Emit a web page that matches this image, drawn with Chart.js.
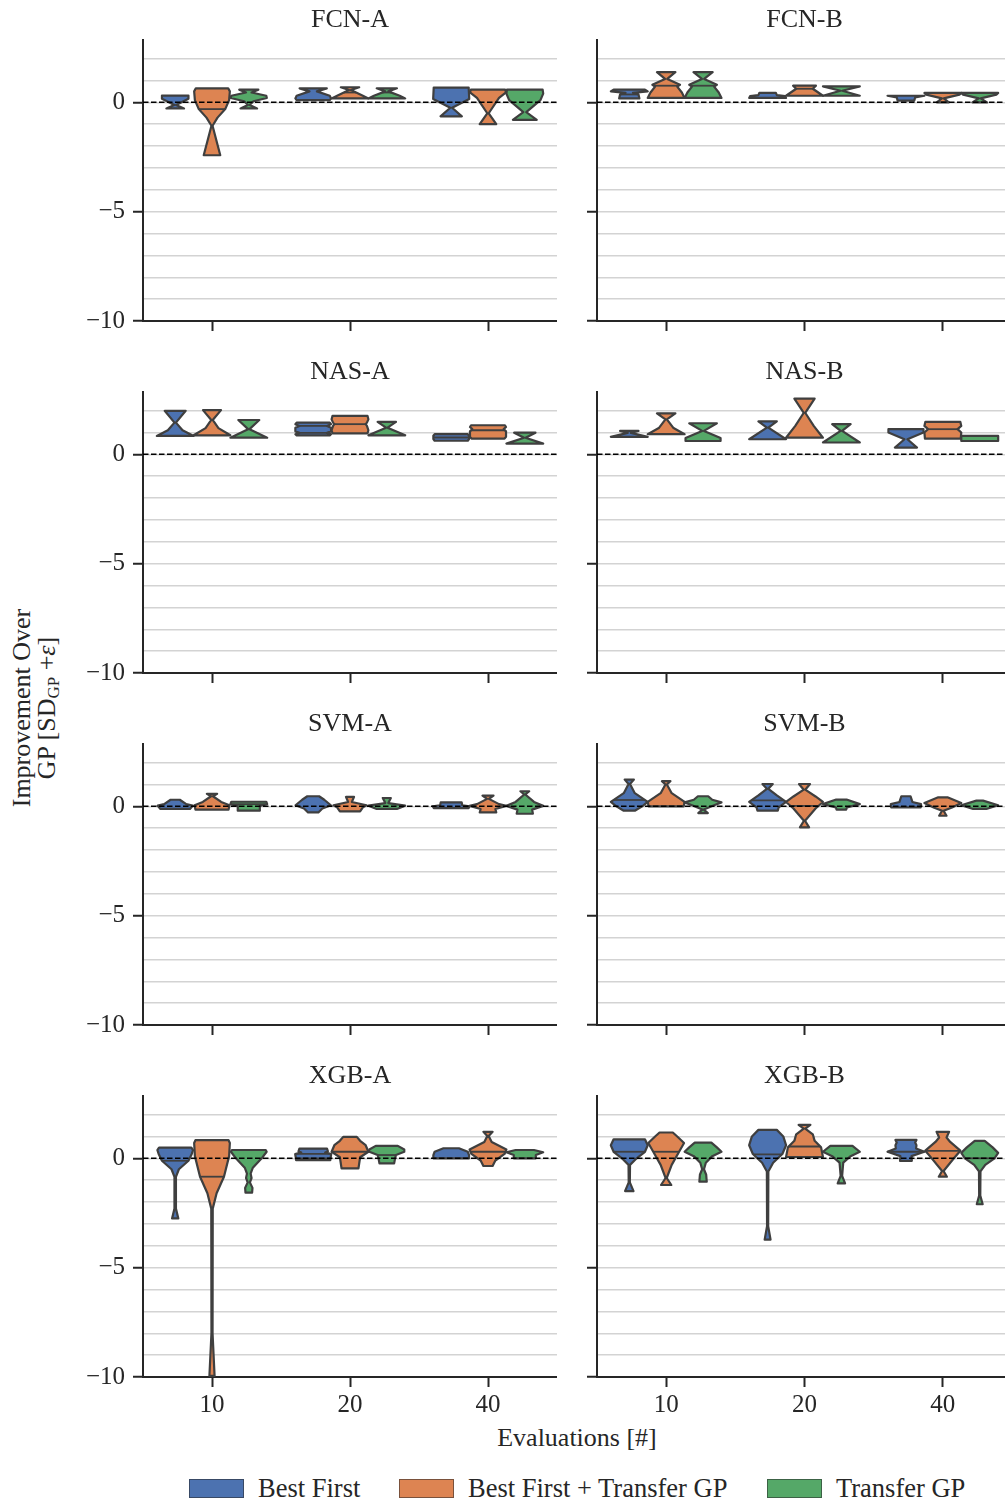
<!DOCTYPE html>
<html>
<head>
<meta charset="utf-8">
<script src="https://cdn.jsdelivr.net/npm/chart.js@4.4.1/dist/chart.umd.min.js"></script>
<style>
  html, body { margin:0; padding:0; background:#fff; }
  body { width:1005px; height:1502px; overflow:hidden; position:relative;
         font-family:'Liberation Serif','Times New Roman',serif; color:#262626; }
  canvas { position:absolute; }
  .ylab { position:absolute; width:340px; left:-136px; top:683px; text-align:center;
          font-size:26px; line-height:25px; transform:rotate(-90deg); transform-origin:50% 50%; white-space:nowrap; }
  .ylab sub { font-size:17px; vertical-align:-4px; line-height:0; }
  .xlab { position:absolute; left:377px; width:400px; top:1423px; text-align:center; font-size:26px; }
  .leg { position:absolute; top:1473px; display:flex; align-items:center; font-size:26.5px; white-space:nowrap; }
  .leg span.box { display:inline-block; width:53px; height:17px; margin-right:14px; border:1px solid rgba(40,40,40,0.55); }
</style>
</head>
<body>
<div class="ylab">Improvement Over<br>GP [SD<sub>GP</sub> +<i>ε</i>]</div>
<div class="xlab">Evaluations [#]</div>
<div class="leg" style="left:189px"><span class="box" style="background:#4C72B0"></span>Best First</div>
<div class="leg" style="left:399px"><span class="box" style="background:#DD8452"></span>Best First + Transfer GP</div>
<div class="leg" style="left:767px"><span class="box" style="background:#55A868"></span>Transfer GP</div>
<script>
// ---------------- data ----------------
const panelTitles = ['FCN-A','FCN-B','NAS-A','NAS-B','SVM-A','SVM-B','XGB-A','XGB-B'];
const evaluations = ['10','20','40'];
const methods = ['Best First','Best First + Transfer GP','Transfer GP'];
const yTickValues = [-10,-9,-8,-7,-6,-5,-4,-3,-2,-1,0,1,2];
const yMin = -10, yMax = 2.85;
const methodColors = ['#4C72B0','#DD8452','#55A868'];

// violin profiles: [value, relative half-width] from top to bottom, one per evaluation budget
const fcnA_bestFirst = [
  [[0.31,0.72],[0.16,0.72],[-0.12,0.05],[-0.28,0.48]],
  [[0.64,0.74],[0.5,0.2],[0.3,0.9],[0.18,0.97],[0.1,0.9]],
  [[0.67,0.95],[0.15,0.98],[-0.25,0.05],[-0.64,0.58]]];
const fcnA_bestFirstTransfer = [
  [[0.64,0.88],[0.5,0.97],[0.1,0.93],[-0.31,0.72],[-0.7,0.3],[-1.07,0.03],[-2.42,0.45]],
  [[0.69,0.5],[0.56,0.05],[0.3,0.7],[0.18,1.0]],
  [[0.58,0.93],[0.45,0.98],[0.2,0.6],[-0.5,0.04],[-1.0,0.45]]];
const fcnA_transfer = [
  [[0.58,0.52],[0.45,0.15],[0.3,0.95],[0.2,0.98],[0.05,0.25],[-0.12,0.05],[-0.28,0.45]],
  [[0.64,0.55],[0.5,0.08],[0.3,0.7],[0.18,1.0]],
  [[0.58,0.97],[0.4,1.0],[0.1,0.85],[-0.45,0.08],[-0.8,0.65]]];
const fcnA_lines = [[[],[],[]],[[-0.31],[0.45],[]],[[],[0.45],[]]];

const fcnB_bestFirst = [
  [[0.58,0.85],[0.5,1.0],[0.43,0.2],[0.36,0.5],[0.18,0.55]],
  [[0.43,0.45],[0.33,0.5],[0.28,0.95],[0.2,1.0]],
  [[0.3,1.0],[0.22,0.5],[0.08,0.45]]];
const fcnB_bestFirstTransfer = [
  [[1.38,0.5],[1.07,0.06],[0.8,0.75],[0.72,0.6],[0.45,0.85],[0.2,1.0]],
  [[0.76,0.62],[0.62,0.45],[0.3,1.0]],
  [[0.43,1.0],[0.35,0.9],[0.18,0.05],[0.0,0.33]]];
const fcnB_transfer = [
  [[1.38,0.52],[1.07,0.06],[0.8,0.75],[0.72,0.6],[0.45,0.85],[0.2,1.0]],
  [[0.73,1.0],[0.53,0.05],[0.3,1.0]],
  [[0.43,1.0],[0.35,0.9],[0.18,0.05],[0.0,0.4]]];
const fcnB_lines = [[[0.36],[],[]],[[0.76],[0.62],[]],[[0.76],[],[]]];

const nasA_bestFirst = [
  [[1.99,0.57],[1.45,0.04],[1.1,0.4],[0.84,1.0]],
  [[1.45,0.9],[1.38,0.97],[1.3,0.75],[1.22,0.97],[1.05,0.97],[0.98,0.75],[0.92,0.97],[0.87,0.9]],
  [[0.92,0.9],[0.85,0.97],[0.7,0.97],[0.62,0.9]]];
const nasA_bestFirstTransfer = [
  [[2.02,0.49],[1.57,0.04],[1.2,0.35],[0.87,1.0]],
  [[1.76,0.95],[1.6,1.0],[1.45,0.92],[1.38,0.85],[1.3,0.92],[1.1,1.0],[0.96,0.95]],
  [[1.33,0.92],[1.25,0.98],[1.15,0.85],[1.05,0.98],[0.8,0.98],[0.72,0.9]]];
const nasA_transfer = [
  [[1.57,0.57],[1.15,0.04],[0.76,1.0]],
  [[1.48,0.5],[1.22,0.04],[0.87,1.0]],
  [[0.99,0.58],[0.76,0.04],[0.49,1.0]]];
const nasA_lines = [[[],[1.3,0.98],[0.77]],[[],[1.38],[1.1]],[[],[],[]]];

const nasB_bestFirst = [
  [[1.07,0.5],[0.98,0.08],[0.8,1.0]],
  [[1.51,0.5],[1.22,0.04],[0.69,1.0]],
  [[1.15,0.95],[1.0,0.95],[0.69,0.08],[0.31,0.6]]];
const nasB_bestFirstTransfer = [
  [[1.87,0.5],[1.6,0.04],[1.2,0.4],[0.92,1.0]],
  [[2.55,0.55],[1.9,0.04],[1.3,0.5],[0.76,1.0]],
  [[1.48,0.95],[1.3,1.0],[1.15,0.8],[1.0,1.0],[0.72,0.97]]];
const nasB_transfer = [
  [[1.42,0.75],[1.07,0.05],[0.75,0.95],[0.61,0.95]],
  [[1.38,0.5],[1.07,0.04],[0.54,1.0]],
  [[0.84,1.0],[0.61,1.0]]];
const nasB_lines = [[[],[],[]],[[],[],[1.15]],[[],[],[]]];

const svmA_bestFirst = [
  [[0.3,0.25],[0.1,0.6],[0.03,0.95],[-0.12,0.8]],
  [[0.46,0.32],[0.3,0.6],[0.05,0.96],[-0.1,0.5],[-0.28,0.28]],
  [[0.18,0.57],[0.05,0.6],[0.0,1.0],[-0.08,0.95]]];
const svmA_bestFirstTransfer = [
  [[0.57,0.28],[0.46,0.05],[0.2,0.5],[0.05,0.95],[-0.15,0.9]],
  [[0.43,0.22],[0.2,0.1],[0.05,0.9],[-0.05,0.7],[-0.23,0.55]],
  [[0.49,0.3],[0.34,0.05],[0.1,0.6],[0.02,1.0],[-0.12,0.4],[-0.28,0.45]]];
const svmA_transfer = [
  [[0.21,0.95],[0.1,1.0],[0.02,0.6],[-0.2,0.6]],
  [[0.38,0.22],[0.15,0.08],[0.03,1.0],[-0.12,0.55]],
  [[0.69,0.24],[0.54,0.03],[0.2,0.5],[0.02,1.0],[-0.15,0.4],[-0.34,0.44]]];
const svmA_lines = [[[],[],[]],[[],[],[]],[[0.1],[],[]]];

const svmB_bestFirst = [
  [[1.22,0.25],[1.02,0.04],[0.6,0.3],[0.2,1.0],[0.0,0.7],[-0.2,0.3]],
  [[1.02,0.28],[0.8,0.04],[0.5,0.5],[0.2,1.0],[-0.05,0.6],[-0.2,0.55]],
  [[0.46,0.25],[0.2,0.35],[0.1,0.82],[-0.05,0.8]]];
const svmB_bestFirstTransfer = [
  [[1.15,0.23],[1.0,0.04],[0.6,0.3],[0.2,1.0],[0.0,0.95]],
  [[1.02,0.3],[0.76,0.04],[0.45,0.6],[0.2,1.0],[-0.1,0.6],[-0.66,0.03],[-0.96,0.25]],
  [[0.41,0.25],[0.15,1.0],[-0.05,0.5],[-0.2,0.04],[-0.43,0.2]]];
const svmB_transfer = [
  [[0.46,0.28],[0.3,0.5],[0.18,1.0],[0.05,0.6],[-0.15,0.04],[-0.31,0.26]],
  [[0.31,0.28],[0.1,1.0],[-0.05,0.3],[-0.15,0.26]],
  [[0.26,0.18],[0.05,1.0],[-0.12,0.36]]];
const svmB_lines = [[[0.29],[0.27],[]],[[],[0.02],[]],[[],[],[]]];

const xgbA_bestFirst = [
  [[0.49,0.88],[0.38,0.97],[0.2,0.9],[-0.11,0.72],[-0.5,0.2],[-0.85,0.04],[-2.3,0.04],[-2.75,0.17]],
  [[0.44,0.75],[0.32,0.8],[0.27,0.65],[0.2,0.98],[0.05,0.95],[-0.08,0.93]],
  [[0.46,0.42],[0.3,0.9],[0.15,0.97],[0.0,0.97]]];
const xgbA_bestFirstTransfer = [
  [[0.83,0.9],[0.7,0.97],[0.1,0.93],[-0.84,0.65],[-1.6,0.25],[-2.3,0.04],[-8.0,0.03],[-9.95,0.14]],
  [[0.98,0.37],[0.8,0.55],[0.6,0.85],[0.3,1.0],[0.05,0.55],[-0.46,0.46]],
  [[1.21,0.25],[1.02,0.04],[0.75,0.2],[0.4,1.0],[0.2,0.9],[-0.1,0.4],[-0.35,0.25]]];
const xgbA_transfer = [
  [[0.38,0.92],[0.3,0.97],[0.0,0.7],[-0.43,0.22],[-0.7,0.1],[-0.9,0.15],[-1.1,0.06],[-1.35,0.2],[-1.57,0.18]],
  [[0.57,0.6],[0.4,0.95],[0.3,0.95],[0.15,0.5],[0.0,0.45],[-0.23,0.4]],
  [[0.38,0.5],[0.28,1.0],[0.15,0.6],[0.0,0.6]]];
const xgbA_lines = [[[-0.11],[0.2,0.0],[]],[[-0.84],[0.3],[0.3]],[[],[0.15],[]]];

const xgbB_bestFirst = [
  [[0.87,0.85],[0.6,1.0],[0.3,0.85],[0.0,0.4],[-0.3,0.04],[-1.1,0.03],[-1.5,0.23]],
  [[1.3,0.5],[1.0,0.85],[0.6,1.0],[0.2,0.8],[-0.2,0.3],[-0.6,0.04],[-3.1,0.03],[-3.72,0.16]],
  [[0.84,0.57],[0.72,0.5],[0.6,0.57],[0.45,0.55],[0.3,1.0],[0.1,0.3],[-0.12,0.32]]];
const xgbB_bestFirstTransfer = [
  [[1.18,0.36],[1.0,0.6],[0.7,0.97],[0.3,0.7],[-0.3,0.3],[-0.9,0.03],[-1.22,0.28]],
  [[1.53,0.32],[1.36,0.04],[1.1,0.45],[0.8,0.55],[0.5,0.9],[0.06,1.0]],
  [[1.21,0.34],[0.95,0.2],[0.75,0.4],[0.35,0.95],[0.0,0.6],[-0.58,0.04],[-0.84,0.22]]];
const xgbB_transfer = [
  [[0.72,0.45],[0.5,0.75],[0.3,1.0],[0.1,0.5],[-0.2,0.15],[-0.5,0.05],[-0.75,0.17],[-1.07,0.2]],
  [[0.57,0.6],[0.3,1.0],[0.1,0.5],[-0.2,0.1],[-0.8,0.04],[-1.15,0.2]],
  [[0.8,0.27],[0.5,0.7],[0.25,1.0],[0.0,0.8],[-0.3,0.3],[-0.6,0.04],[-1.7,0.03],[-2.1,0.16]]];
const xgbB_lines = [[[0.3],[0.18],[0.3]],[[0.3],[0.54],[0.34]],[[],[],[0.0]]];

// ---------------- assembly ----------------
const panelProfiles = [
  [fcnA_bestFirst, fcnA_bestFirstTransfer, fcnA_transfer],
  [fcnB_bestFirst, fcnB_bestFirstTransfer, fcnB_transfer],
  [nasA_bestFirst, nasA_bestFirstTransfer, nasA_transfer],
  [nasB_bestFirst, nasB_bestFirstTransfer, nasB_transfer],
  [svmA_bestFirst, svmA_bestFirstTransfer, svmA_transfer],
  [svmB_bestFirst, svmB_bestFirstTransfer, svmB_transfer],
  [xgbA_bestFirst, xgbA_bestFirstTransfer, xgbA_transfer],
  [xgbB_bestFirst, xgbB_bestFirstTransfer, xgbB_transfer]];
const panelLines = [fcnA_lines, fcnB_lines, nasA_lines, nasB_lines, svmA_lines, svmB_lines, xgbA_lines, xgbB_lines];

function widthAt(prof, v) {
  for (let k = 0; k < prof.length - 1; k++) {
    const [v0, w0] = prof[k], [v1, w1] = prof[k + 1];
    if (v <= v0 && v >= v1) return v0 === v1 ? w0 : w0 + (w1 - w0) * (v0 - v) / (v0 - v1);
  }
  return 0;
}

const TEXT = '#262626';
const FONT = { family: "'Liberation Serif','Times New Roman',serif", size: 25 };
const TITLE_FONT = { family: "'Liberation Serif','Times New Roman',serif", size: 26, weight: 'normal' };
const fmt = v => (v < 0 ? '\u2212' + Math.abs(v) : String(v));

const violinPlugin = {
  id: 'violins',
  afterDatasetsDraw(chart) {
    const ctx = chart.ctx, ys = chart.scales.y, a = chart.chartArea;
    ctx.save();
    ctx.beginPath(); ctx.rect(a.left, a.top - 2, a.right - a.left, a.bottom - a.top + 2); ctx.clip();
    chart.data.datasets.forEach((ds, di) => {
      const meta = chart.getDatasetMeta(di);
      meta.data.forEach((el, j) => {
        const prof = ds.violins[j];
        const hw = el.width / 2, cx = el.x;
        ctx.beginPath();
        prof.forEach(([v, w], k) => {
          const px = cx + w * hw, py = ys.getPixelForValue(v);
          if (k) ctx.lineTo(px, py); else ctx.moveTo(px, py);
        });
        for (let k = prof.length - 1; k >= 0; k--) {
          const [v, w] = prof[k];
          ctx.lineTo(cx - w * hw, ys.getPixelForValue(v));
        }
        ctx.closePath();
        ctx.fillStyle = ds.violinColor; ctx.fill();
        ctx.lineJoin = 'round'; ctx.lineWidth = 2.2; ctx.strokeStyle = '#3f3f3f'; ctx.stroke();
        (ds.innerLines[j] || []).forEach(v => {
          const w = widthAt(prof, v) * hw, py = ys.getPixelForValue(v);
          ctx.beginPath(); ctx.moveTo(cx - w, py); ctx.lineTo(cx + w, py);
          ctx.lineWidth = 1.8; ctx.strokeStyle = '#3f3f3f'; ctx.stroke();
        });
      });
    });
    const z = ys.getPixelForValue(0);
    ctx.beginPath(); ctx.setLineDash([5.5, 2.5]);
    ctx.moveTo(a.left, z); ctx.lineTo(a.right, z);
    ctx.strokeStyle = '#000'; ctx.lineWidth = 1.5; ctx.stroke();
    ctx.restore();
  }
};

panelTitles.forEach((title, p) => {
  const row = Math.floor(p / 2), col = p % 2;
  const last = row === 3;
  const cv = document.createElement('canvas');
  const W = col ? 452 : 557, H = last ? 381 : 352;
  cv.width = W; cv.height = H;
  cv.style.left = (col ? 560 : 0) + 'px';
  cv.style.top = (row * 352) + 'px';
  cv.style.width = W + 'px'; cv.style.height = H + 'px';
  document.body.appendChild(cv);

  const datasets = methods.map((m, i) => ({
    label: m,
    data: panelProfiles[p][i].map(prof => [prof[prof.length - 1][0], prof[0][0]]),
    backgroundColor: 'rgba(0,0,0,0)', borderWidth: 0,
    violins: panelProfiles[p][i],
    innerLines: panelLines[p][i],
    violinColor: methodColors[i]
  }));

  new Chart(cv, {
    type: 'bar',
    data: { labels: evaluations, datasets },
    options: {
      responsive: false, animation: false, devicePixelRatio: 1,
      categoryPercentage: 0.8, barPercentage: 1.0,
      layout: { padding: 0 },
      events: [],
      plugins: {
        legend: { display: false }, tooltip: { enabled: false },
        title: { display: true, fullSize: false, text: title, color: TEXT, font: TITLE_FONT,
                 padding: { top: 4.4, bottom: 4.4 } }
      },
      scales: {
        x: {
          type: 'category', offset: true,
          grid: { offset: false, drawOnChartArea: false, drawTicks: true, tickLength: 10,
                  tickWidth: 2, tickColor: TEXT },
          border: { color: TEXT, width: 2 },
          ticks: { display: last, color: TEXT, font: FONT, padding: 3, maxRotation: 0 },
          afterFit: s => { s.height = last ? 60 : 31; }
        },
        y: {
          type: 'linear', min: yMin, max: yMax,
          afterBuildTicks: s => { s.ticks = yTickValues.map(v => ({ value: v })); },
          grid: {
            color: c => (c.tick && c.tick.value === yMin) ? 'rgba(0,0,0,0)' : '#d3d3d3',
            lineWidth: 1.5, drawTicks: true, tickLength: 10, tickWidth: 2,
            tickColor: c => (c.tick && c.tick.value % 5 === 0) ? TEXT : 'rgba(0,0,0,0)'
          },
          border: { color: TEXT, width: 2 },
          ticks: { display: col === 0, autoSkip: false, color: TEXT, font: FONT, padding: 8,
                   callback: v => (v % 5 === 0 ? fmt(v) : '') },
          afterFit: s => { s.width = col ? 37 : 143; }
        }
      }
    },
    plugins: [violinPlugin]
  });
});
</script>
</body>
</html>
